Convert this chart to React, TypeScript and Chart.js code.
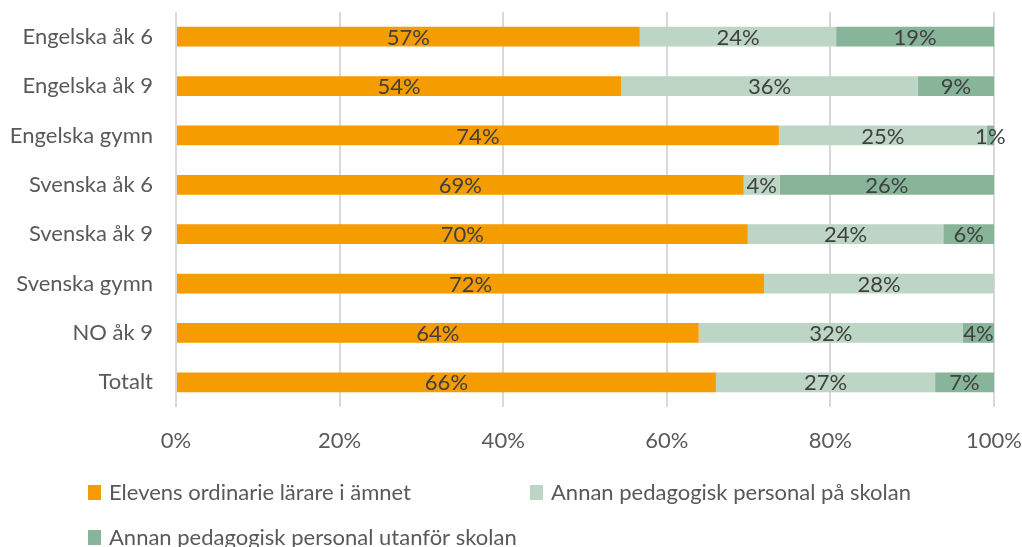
import React, { useEffect, useRef } from "react";
import { Chart, registerables } from "chart.js";

Chart.register(...registerables);

const categories = [
  "Engelska åk 6",
  "Engelska åk 9",
  "Engelska gymn",
  "Svenska åk 6",
  "Svenska åk 9",
  "Svenska gymn",
  "NO åk 9",
  "Totalt",
];
const seriesNames = [
  "Elevens ordinarie lärare i ämnet",
  "Annan pedagogisk personal på skolan",
  "Annan pedagogisk personal utanför skolan",
];
const ordinarie = [56.7, 54.4, 73.7, 69.4, 69.9, 71.9, 63.9, 66.0];
const annanPaSkolan = [24.0, 36.3, 25.4, 4.4, 23.9, 28.1, 32.3, 26.8];
const annanUtanfor = [19.3, 9.3, 0.9, 26.2, 6.2, 0, 3.8, 7.2];
const xTicks = [0, 20, 40, 60, 80, 100];
const colors = ["#F49C00", "#BDD5C4", "#88B499"];

const FONT = "Lato, 'Liberation Sans', sans-serif";
const FONT_SIZE = 22;

const dataLabelPlugin = {
  id: "dataLabels",
  afterDatasetsDraw(chart: any) {
    const ctx = chart.ctx;
    ctx.save();
    ctx.font = `${FONT_SIZE}px ${FONT}`;
    ctx.fillStyle = "#404040";
    ctx.textAlign = "center";
    ctx.textBaseline = "middle";
    chart.data.datasets.forEach((ds: any, di: number) => {
      const meta = chart.getDatasetMeta(di);
      meta.data.forEach((el: any, i: number) => {
        const v = ds.data[i];
        if (!v || v <= 0) return;
        const cx = (el.x + el.base) / 2;
        ctx.fillText(Math.round(v) + "%", cx, el.y + 1);
      });
    });
    ctx.restore();
  },
};

const legendPlugin = {
  id: "customLegend",
  afterDraw(chart: any) {
    const ctx = chart.ctx;
    const items = [
      { x: 88, y: 492 },
      { x: 530, y: 492 },
      { x: 88, y: 537 },
    ];
    ctx.save();
    ctx.font = `${FONT_SIZE}px ${FONT}`;
    ctx.textAlign = "left";
    ctx.textBaseline = "middle";
    chart.data.datasets.forEach((ds: any, i: number) => {
      const p = items[i];
      ctx.fillStyle = ds.backgroundColor;
      ctx.fillRect(p.x, p.y - 7, 13, 15);
      ctx.fillStyle = "#595959";
      ctx.fillText(ds.label, p.x + 21, p.y + 1);
    });
    ctx.restore();
  },
};

function zeroPadding(scale: any) {
  scale.paddingTop = 0;
  scale.paddingBottom = 0;
  scale.paddingLeft = 0;
  scale.paddingRight = 0;
}

export default function App() {
  const canvasRef = useRef<HTMLCanvasElement | null>(null);

  useEffect(() => {
    document.body.style.margin = "0";
    const canvas = canvasRef.current;
    if (!canvas) return;
    const chart = new Chart(canvas, {
      type: "bar",
      data: {
        labels: categories,
        datasets: [
          { label: seriesNames[0], data: ordinarie, backgroundColor: colors[0] },
          { label: seriesNames[1], data: annanPaSkolan, backgroundColor: colors[1] },
          { label: seriesNames[2], data: annanUtanfor, backgroundColor: colors[2] },
        ],
      },
      options: {
        indexAxis: "y",
        responsive: true,
        maintainAspectRatio: false,
        animation: false,
        layout: { padding: { top: 12, right: 28, bottom: 85, left: 0 } },
        datasets: {
          bar: { barPercentage: 0.4, categoryPercentage: 1.0, borderWidth: 0 },
        },
        plugins: {
          legend: { display: false },
          tooltip: { enabled: false },
        },
        scales: {
          x: {
            stacked: true,
            min: 0,
            max: 100,
            afterBuildTicks(scale: any) {
              scale.ticks = xTicks.map((v) => ({ value: v }));
            },
            afterFit(scale: any) {
              scale.height = 547 - 85 - 407;
              zeroPadding(scale);
            },
            border: { display: false },
            grid: { color: "#D9D9D9", lineWidth: 2, drawTicks: false },
            ticks: {
              padding: 21,
              color: "#595959",
              font: { family: FONT, size: FONT_SIZE },
              callback: (v: any) => v + "%",
            },
          },
          y: {
            stacked: true,
            afterFit(scale: any) {
              scale.width = 176;
              zeroPadding(scale);
            },
            border: { display: false },
            grid: { display: false, drawTicks: false },
            ticks: {
              padding: 23,
              color: "#595959",
              font: { family: FONT, size: FONT_SIZE },
            },
          },
        },
      },
      plugins: [dataLabelPlugin, legendPlugin],
    });
    return () => chart.destroy();
  }, []);

  return (
    <div style={{ width: 1022, height: 547, position: "relative" }}>
      <canvas ref={canvasRef} />
    </div>
  );
}
